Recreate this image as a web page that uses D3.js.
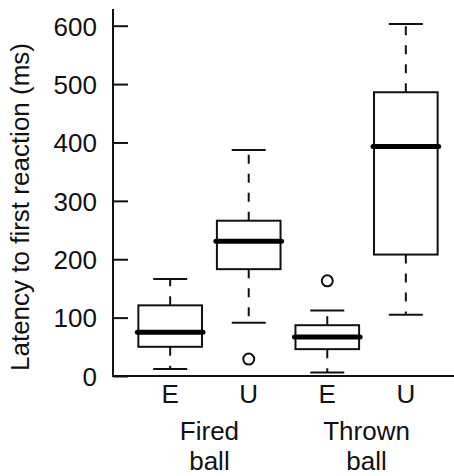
<!DOCTYPE html>
<html><head><meta charset="utf-8">
<script src="https://cdn.jsdelivr.net/npm/d3@7"></script>
<style>body{margin:0;background:#fff}svg{display:block}text{font-family:"Liberation Sans",Arial,sans-serif;fill:#111}</style>
</head><body>
<script>
const categories = ["E","U","E","U"];
const groups = [["Fired","ball"],["Thrown","ball"]];
const lowerWhisker = [12, 91, 6, 105];
const q1 = [50, 183, 46, 208];
const medians = [75, 231, 67, 393];
const q3 = [121, 266, 87, 486];
const upperWhisker = [166, 387, 112, 603];
const outliers = [[], [29], [163], []];
const yTicks = [0,100,200,300,400,500,600];

const W=454,H=476, FS=26;
const svg=d3.select("body").append("svg").attr("width",W).attr("height",H);
const y=d3.scaleLinear().domain([0,600]).range([376,25.7]);
const x=d3.scaleBand().domain(d3.range(4)).range([130.5,445.5]).paddingInner(0.19).paddingOuter(0.1);
const bw=x.bandwidth();
const cx=i=>x(i)+bw/2;

// axes
svg.append("line").attr("x1",113).attr("x2",113).attr("y1",9).attr("y2",376).attr("stroke","#111").attr("stroke-width",2);
svg.append("line").attr("x1",112).attr("x2",454).attr("y1",376).attr("y2",376).attr("stroke","#111").attr("stroke-width",2);
const yAxis=d3.axisLeft(y).tickValues(yTicks).tickSize(-15).tickPadding(16);
const ga=svg.append("g").attr("transform","translate(113,0)").call(yAxis);
ga.select(".domain").remove();
ga.selectAll(".tick line").attr("stroke","#111").attr("stroke-width",2);
ga.selectAll(".tick text").attr("font-size",FS).attr("fill","#111").attr("font-family","Liberation Sans, Arial, sans-serif").attr("dy","0.36em");

svg.append("text").attr("transform","translate(29,207) rotate(-90)").attr("text-anchor","middle").attr("font-size",FS).text("Latency to first reaction (ms)");

// boxes
const capW=34;
categories.forEach((c,i)=>{
  const g=svg.append("g");
  const dash="9,10";
  g.append("line").attr("x1",cx(i)).attr("x2",cx(i)).attr("y1",y(q3[i])).attr("y2",y(upperWhisker[i])).attr("stroke","#111").attr("stroke-width",2).attr("stroke-dasharray",dash);
  g.append("line").attr("x1",cx(i)).attr("x2",cx(i)).attr("y1",y(q1[i])).attr("y2",y(lowerWhisker[i])).attr("stroke","#111").attr("stroke-width",2).attr("stroke-dasharray",dash);
  [upperWhisker[i],lowerWhisker[i]].forEach(v=>g.append("line").attr("x1",cx(i)-capW/2).attr("x2",cx(i)+capW/2).attr("y1",y(v)).attr("y2",y(v)).attr("stroke","#111").attr("stroke-width",2));
  g.append("rect").attr("x",x(i)).attr("width",bw).attr("y",y(q3[i])).attr("height",y(q1[i])-y(q3[i])).attr("fill","#fff").attr("stroke","#111").attr("stroke-width",2);
  g.append("line").attr("x1",x(i)-1).attr("x2",x(i)+bw+1).attr("y1",y(medians[i])).attr("y2",y(medians[i])).attr("stroke","#000").attr("stroke-width",5).attr("stroke-linecap","round");
  outliers[i].forEach(v=>g.append("circle").attr("cx",cx(i)).attr("cy",y(v)).attr("r",5.5).attr("fill","none").attr("stroke","#111").attr("stroke-width",2));
  svg.append("text").attr("x",cx(i)).attr("y",403).attr("text-anchor","middle").attr("font-size",FS).text(c);
});
groups.forEach((gl,j)=>{
  const mx=(cx(2*j)+cx(2*j+1))/2;
  gl.forEach((t,k)=>svg.append("text").attr("x",mx).attr("y",440+k*30).attr("text-anchor","middle").attr("font-size",FS).text(t));
});
</script>
</body></html>
